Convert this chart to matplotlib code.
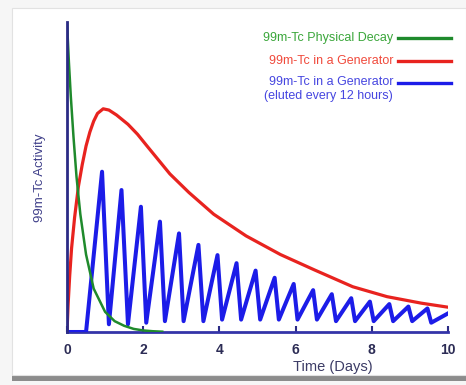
import matplotlib
matplotlib.use('Agg')
import matplotlib.pyplot as plt
from matplotlib.patches import Rectangle

plt.rcParams['font.family'] = ['Liberation Sans', 'DejaVu Sans']

# 颜色
colGreen = '#1f8a2c'
colRed = '#e8231f'
colBlue = '#1c1ce8'
colAxis = '#2b2b85'

# 99m-Tc physical decay (days, activity)
decayDays = [0, 0.05, 0.1, 0.17, 0.25, 0.35, 0.5, 0.7, 1.0, 1.25, 1.5, 1.75, 2.0, 2.25, 2.5]
decayAct = [100, 87, 76, 63, 50, 38, 25, 14, 6.5, 3.5, 2.0, 1.0, 0.5, 0.25, 0.1]

# 99m-Tc in a generator
genDays = [0, 0.03, 0.07, 0.12, 0.2, 0.3, 0.4, 0.5, 0.6, 0.7, 0.8, 0.95, 1.1, 1.3, 1.6, 1.85,
           2.1, 2.4, 2.7, 3.2, 3.85, 4.7, 5.6, 6.5, 7.5, 8.4, 9.3, 10.0]
genAct = [0, 9, 18, 27, 37, 47, 54, 60, 64.5, 68, 70.5, 72, 71.6, 70, 67, 63.8,
          60, 55.5, 51, 45, 38, 31, 25, 20, 14.6, 11.4, 9.3, 8.0]

# 99m-Tc in a generator, eluted every 12 hours
eluteDays = [0, 0.5, 0.92, 1.1, 1.43, 1.6, 1.94, 2.08, 2.44, 2.57, 2.94, 3.06, 3.45, 3.58,
             3.95, 4.07, 4.45, 4.57, 4.95, 5.07, 5.45, 5.56, 5.95, 6.05, 6.46, 6.56,
             6.95, 7.06, 7.46, 7.56, 7.95, 8.05, 8.46, 8.56, 8.96, 9.06, 9.46, 9.56, 10.0]
eluteAct = [0, 0, 51.7, 2.5, 45.8, 2.5, 40.4, 3.0, 35.6, 3.5, 31.8, 3.5, 28.1, 3.5,
            24.8, 4.0, 22.2, 4.0, 19.8, 4.0, 17.5, 4.0, 15.5, 4.0, 13.5, 4.0,
            12.2, 3.5, 10.9, 3.5, 9.8, 3.5, 9.0, 3.5, 8.2, 3.5, 7.6, 3.0, 6.0]

xTicks = [0, 2, 4, 6, 8, 10]

legendLabels = ['99m-Tc Physical Decay', '99m-Tc in a Generator',
                '99m-Tc in a Generator\n(eluted every 12 hours)']
legendText = ['#3aa63a', '#f04a3c', '#4646e0']

fig = plt.figure(figsize=(4.66, 3.85), dpi=100)
fig.patch.set_facecolor('#f6f6f6')
# 相框 + 阴影
fig.patches.append(Rectangle((12 / 466, 4 / 385), 454 / 466, 8 / 385, transform=fig.transFigure,
                             facecolor='#8c8c8c', edgecolor='none', zorder=-10))
fig.patches.append(Rectangle((12 / 466, 10 / 385), 454 / 466, 367 / 385, transform=fig.transFigure,
                             facecolor='white', edgecolor='#e2e2e2', lw=0.8, zorder=-9))

ax = fig.add_axes([67 / 466, 53 / 385, 381 / 466, 310 / 385])
ax.set_facecolor('none')

ax.plot(genDays, genAct, color=colRed, lw=2.3, zorder=3, solid_joinstyle='round')
ax.plot(eluteDays, eluteAct, color=colBlue, lw=2.9, zorder=4, solid_joinstyle='round')
ax.plot(decayDays, decayAct, color=colGreen, lw=1.8, zorder=5)

ax.set_xlim(0, 10)
ax.set_ylim(0, 100)

for s in ['top', 'right']:
    ax.spines[s].set_visible(False)
ax.spines['left'].set_color(colAxis)
ax.spines['bottom'].set_color('#3434a8')
ax.spines['left'].set_linewidth(2.0)
ax.spines['bottom'].set_linewidth(2.0)
ax.spines['left'].set_zorder(6)

ax.set_yticks([])
ax.set_xticks(xTicks)
ax.set_xticklabels([str(t) for t in xTicks], fontweight='bold', fontsize=10, color='#2c2c55')
ax.tick_params(axis='x', direction='in', length=4, width=1.5, color=colAxis, pad=8)

ax.text(6.98, -0.112, 'Time (Days)', transform=ax.get_xaxis_transform(), ha='center', va='center',
        fontsize=10.5, color='#3c3c66')
fig.text(40 / 466, 1 - 178 / 385, '99m-Tc Activity', rotation=90, ha='center', va='center',
         fontsize=9.5, color='#40408a')

# 图例
legY = [0.948, 0.874, 0.803]
legCols = [colGreen, colRed, colBlue]
for y, lab, tc, lc in zip(legY, legendLabels, legendText, legCols):
    if '\n' in lab:
        ax.text(0.856, y + 0.024, lab, transform=ax.transAxes, ha='right', va='top',
                fontsize=9, color=tc, linespacing=1.3)
    else:
        ax.text(0.856, y, lab, transform=ax.transAxes, ha='right', va='center',
                fontsize=9, color=tc)
    ax.plot([0.870, 1.008], [y, y], transform=ax.transAxes, color=lc, lw=2.4, clip_on=False)

plt.savefig('out.png', dpi=100, facecolor=fig.get_facecolor())
